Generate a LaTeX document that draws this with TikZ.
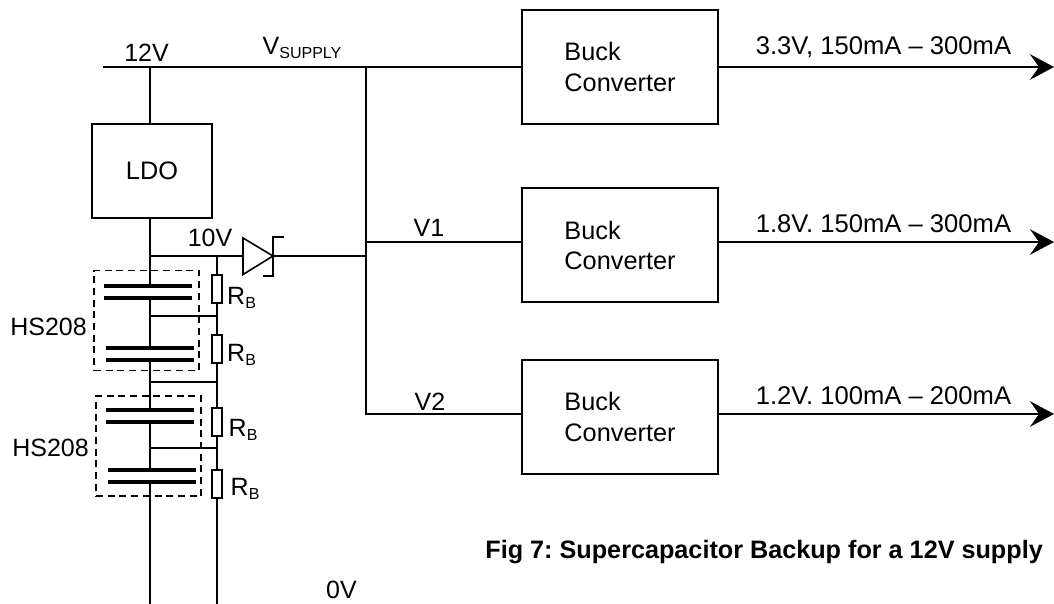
\documentclass[tikz,border=0pt]{standalone}
\usepackage{fontspec}
\setmainfont{Liberation Sans}
\usetikzlibrary{arrows.meta}
\frenchspacing

\newcommand{\lowtxt}[1]{\raisebox{-.16em}{\fontsize{16}{16}\selectfont #1}}

\tikzset{
	lbl/.style={inner sep=0pt, anchor=base, font=\fontsize{25}{30}\selectfont},
	outlbl/.style={lbl, font=\fontsize{25.6}{30}\selectfont},
	blk/.style={draw, line width=2pt, inner sep=0pt, align=left, font=\fontsize{25.3}{30.5}\selectfont},
	plate/.style={fill=black, inner sep=0pt, minimum width=88pt, minimum height=3.2pt},
	rb/.style={draw, line width=2pt, fill=white, inner sep=0pt, minimum width=10pt, minimum height=28pt},
	hsbox/.style={draw, line width=1.4pt, dash pattern=on 7pt off 4.7pt, inner sep=0pt, minimum width=105pt, minimum height=100pt},
	wire/.style={line width=2pt},
	tie/.style={line width=1.3pt},
	outarrow/.style={line width=2.8pt, ->, >={Stealth[length=24pt, width=25.5pt, inset=9pt]}}
}

\begin{document}
\begin{tikzpicture}[x=1pt, y=-1pt]

\useasboundingbox (0, 0) rectangle (1054, 604);

%\draw[xstep=100pt,ystep=100pt,color=gray!80] (0, 0) grid (1054, 604);

% blocks
\node[blk, minimum width=120pt, minimum height=94pt] (ldo) at (152, 171) {LDO};
\foreach \n/\y in {bucka/67.2, buckb/245.3, buckc/417.2}
	\node[blk, minimum width=196.5pt, minimum height=114.3pt] (\n) at (620, \y) {Buck\\Converter};

% supply rail
\coordinate (railw) at (103, 67);
\coordinate (railt) at (150, 67);
\coordinate (railj) at (366, 67);
\coordinate (railv) at (366, 414);
\coordinate (railm) at (366, 242);
\coordinate (rail10) at (366, 256);

\draw[wire] (railw) -- (railj) -- (railj -| bucka.west);
\draw[wire] (railt) -- (railt |- ldo.north);
\draw[wire] (railj) -- (railv) -- (railv -| buckc.west);
\draw[wire] (railm) -- (railm -| buckb.west);

% outputs
\foreach \n/\y in {a/67, b/242, c/414} {
	\coordinate (end\n) at (1054, \y);
	\draw[outarrow] (end\n -| buck\n.east) -- (end\n);
}

% capacitors
\node[plate] (ca1) at (148, 286) {};
\node[plate] (ca2) at (148, 298) {};
\node[plate] (cb1) at (150, 348) {};
\node[plate] (cb2) at (150, 360) {};
\node[plate] (cc1) at (150, 410) {};
\node[plate] (cc2) at (150, 422) {};
\node[plate] (cd1) at (152, 470) {};
\node[plate] (cd2) at (152, 482) {};

\coordinate (gnda) at (150, 604);
\coordinate (gndb) at (217, 604);
\coordinate (tap) at (150, 256);

\draw[wire] (tap |- ldo.south) -- (tap |- ca1.center);
\draw[wire] (tap |- ca2.center) -- (tap |- cb1.center);
\draw[wire] (tap |- cb2.center) -- (tap |- cc1.center);
\draw[wire] (tap |- cc2.center) -- (tap |- cd1.center);
\draw[wire] (tap |- cd2.center) -- (gnda);

% balance resistors
\coordinate (rtop) at (217, 256);
\draw[wire] (rtop) -- (gndb);
\node[rb] (rb1) at (217, 289) {};
\node[rb] (rb2) at (217, 349) {};
\node[rb] (rb3) at (217, 422) {};
\node[rb] (rb4) at (217, 484) {};

\foreach \n/\y in {ta/316, tb/382, tc/448} {
	\coordinate (\n) at (150, \y);
	\draw[tie] (\n) -- (\n -| rtop);
}

% diode
\coordinate (da) at (243, 256);
\coordinate (dk) at (273, 256);
\draw[wire] (tap) -- (da);
\draw[wire] (dk) -- (rail10);
\draw[line width=1.6pt, fill=white] (243, 238) -- (273, 256) -- (243, 274.5) -- cycle;
\draw[line width=1.6pt] (284, 237) -- (273, 237) -- (273, 276) -- (263, 276);

% dashed packs
\node[hsbox] (hsa) at (146.5, 320.3) {};
\node[hsbox] (hsb) at (148.5, 446) {};

% labels
\node[lbl] (l12) at (146.5, 61.7) {12V};
\node[lbl] (lsup) at (302, 55) {V\lowtxt{SUPPLY}};
\node[lbl] (l10) at (210, 246.7) {10V};
\node[lbl] (lv1) at (429, 236.7) {V1};
\node[lbl] (lv2) at (430, 410) {V2};
\node[lbl] (l0) at (341.5, 598) {0V};
\node[lbl] (hsla) at (48.5, 335.7) {HS208};
\node[lbl] (hslb) at (50.5, 456.7) {HS208};
\node[lbl, anchor=base west] (rla) at (227, 304) {R\lowtxt{B}};
\node[lbl, anchor=base west] (rlb) at (227, 361.7) {R\lowtxt{B}};
\node[lbl, anchor=base west] (rlc) at (228.5, 436.7) {R\lowtxt{B}};
\node[lbl, anchor=base west] (rld) at (230.5, 495) {R\lowtxt{B}};
\node[outlbl] (oa) at (883.5, 55) {3.3V, 150mA -- 300mA};
\node[outlbl] (ob) at (883.5, 232.7) {1.8V. 150mA -- 300mA};
\node[outlbl] (oc) at (883.5, 404.7) {1.2V. 100mA -- 200mA};
\node[lbl, anchor=base east, font=\fontsize{25.2}{30}\selectfont\bfseries] (cap) at (1043, 558) {Fig 7: Supercapacitor Backup for a 12V supply};

\end{tikzpicture}
\end{document}
